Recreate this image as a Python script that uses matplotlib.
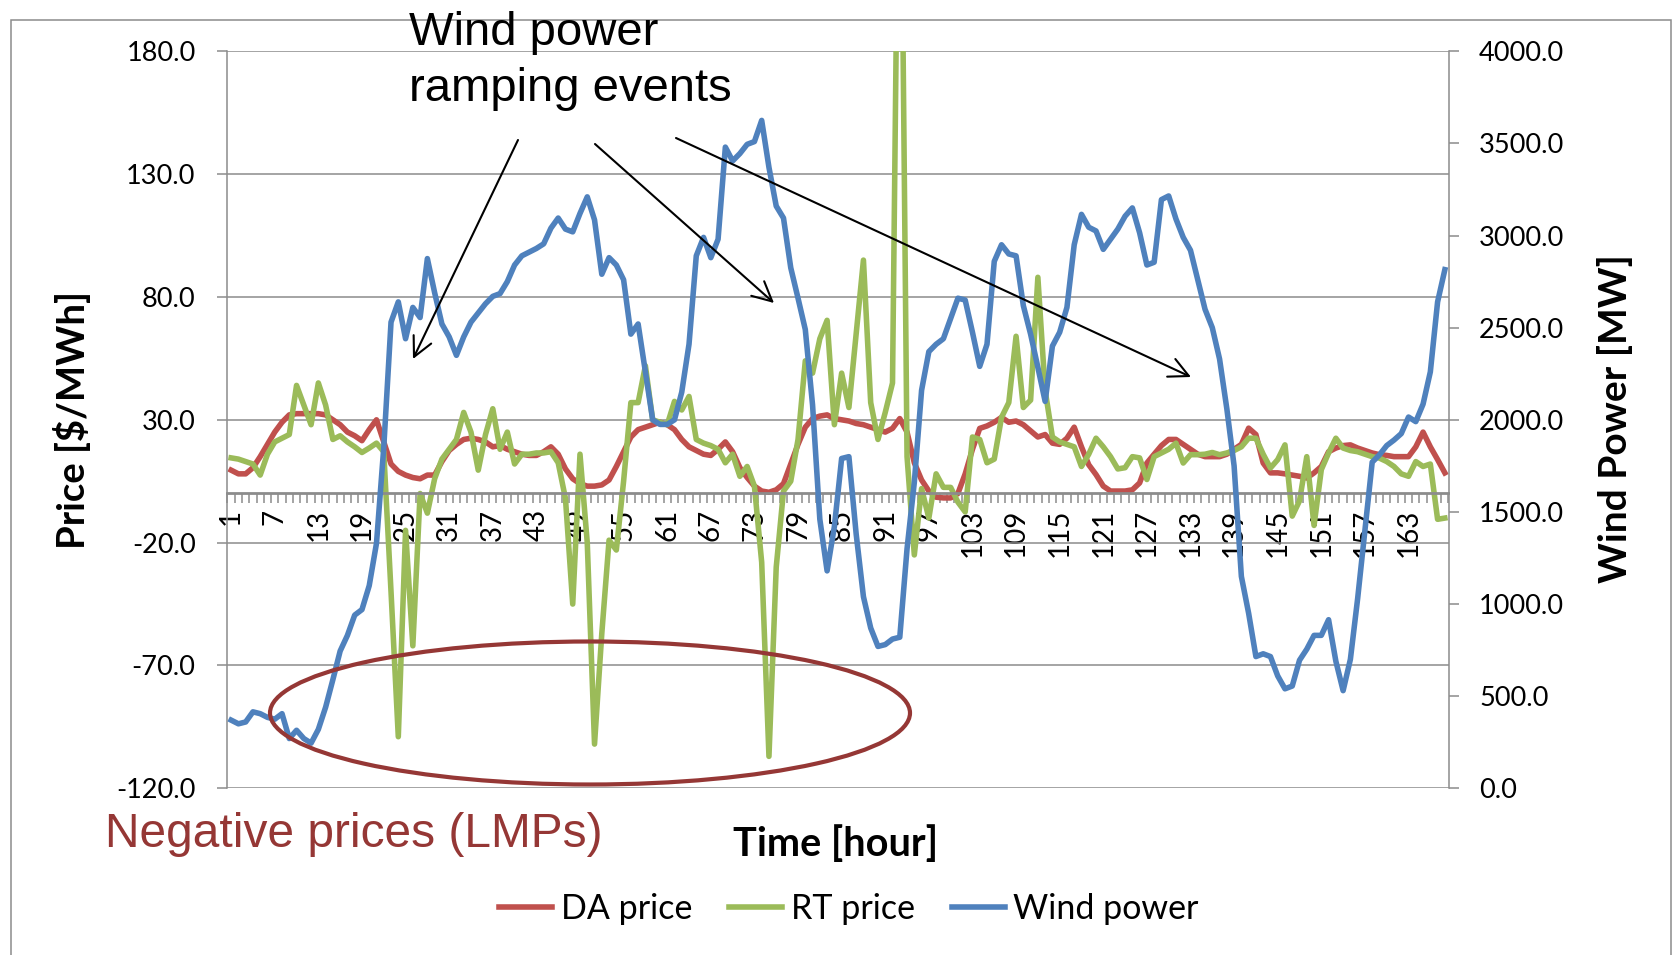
import matplotlib
matplotlib.use("Agg")
import matplotlib.pyplot as plt
from matplotlib.patches import Ellipse, Rectangle, FancyArrowPatch
from matplotlib.ticker import FormatStrFormatter
import numpy as np

hours = list(range(1, 169))

da_price = [
    9.5, 8, 8, 10.5, 15, 20, 25, 29, 32, 32.5,
    32.5, 32.5, 32.5, 32, 30, 28, 25, 23.5, 21.5, 26,
    30, 21, 12, 9, 7.5, 6.5, 6, 7.5, 7.5, 13,
    17.5, 20, 22, 22.5, 22, 21, 19, 19.5, 18, 17,
    16, 15.5, 15.5, 17, 19, 16, 10, 6, 4, 3,
    3, 3.5, 5.5, 11, 17, 23, 26, 27, 28, 29,
    28, 26, 22, 19, 17.5, 16, 15.5, 18, 21, 17,
    10.5, 6.5, 3, 1, 0.5, 1.5, 4, 12, 20, 27,
    30.5, 31.5, 32, 30.5, 30, 29.5, 28.5, 28, 27, 26,
    25, 26.5, 30.5, 25, 12.5, 5.5, 1, -1.5, -1.8, -1.8,
    0, 8, 18, 26.5, 27.5, 29, 31, 29, 29.5, 28,
    25.5, 23, 24, 20.5, 20, 22.5, 27, 19, 11.7, 7.7,
    3, 1, 1, 1, 1.5, 4.3, 12.4, 16, 19.5, 22,
    22, 20, 18, 16, 15, 15, 15, 16, 18, 20,
    26.6, 24, 12.4, 8.4, 8.4, 8, 7.5, 7, 6.3, 8.4,
    11, 17, 18.5, 19.5, 19.8, 18.5, 17.5, 16.5, 15.8, 15.5,
    15, 15, 15, 19, 25, 19, 13.8, 8.4,
]

rt_price = [
    14.5, 14, 13, 12, 7.5, 16, 21, 22.5, 24, 44,
    36, 28, 45, 36, 22, 23.5, 21, 19, 16.7, 18.5,
    20.5, 17, -40, -99, -15, -62, 0, -8, 6, 14,
    18, 22, 33, 25, 9.5, 24, 34.5, 18, 25, 12,
    16, 16, 16.5, 16.5, 17, 12.5, -2, -45, 16, -20,
    -102, -57, -19, -23, 5, 37, 37, 52, 30, 29,
    28, 37.5, 34, 39.5, 22, 20.5, 19.5, 18, 12.5, 16,
    7, 11, 3, -28, -107, -30, 1, 5, 22, 54,
    49, 63, 70.5, 28, 49, 35, 65, 95, 37, 22,
    33, 45, 320, 15, -25, 2, -10, 8, 2.5, 2.5,
    -3.5, -7.5, 23, 22, 12.5, 14, 31, 37, 64, 35,
    38, 88, 42, 23, 21, 20, 19, 11, 16, 22.5,
    19, 15, 10, 10.5, 15, 14.5, 5.7, 15, 16.5, 18,
    20.5, 12.4, 15.8, 15.8, 16, 16.7, 15.8, 16.5, 17.5, 19,
    22.5, 22.5, 16, 10.4, 13.8, 19.8, -9.2, -3, 15, -13,
    9.7, 16.5, 22.5, 18.5, 17.5, 17, 16, 15, 14.4, 13,
    11, 8, 7, 13, 11, 12, -10.5, -10,
]

wind_power = [
    370, 350, 360, 415, 405, 385, 375, 405, 270, 315,
    270, 245, 320, 440, 590, 745, 830, 940, 970, 1100,
    1330, 1850, 2530, 2640, 2440, 2610, 2555, 2875, 2690, 2520,
    2450, 2350, 2450, 2530, 2580, 2630, 2670, 2685, 2750, 2840,
    2890, 2910, 2930, 2955, 3040, 3095, 3035, 3020, 3120, 3210,
    3085, 2790, 2880, 2840, 2760, 2465, 2520, 2260, 2000, 1975,
    1975, 2000, 2150, 2410, 2890, 2990, 2880, 2980, 3480, 3405,
    3445, 3495, 3510, 3625, 3370, 3160, 3095, 2825, 2660, 2490,
    2080, 1460, 1180, 1420, 1790, 1800, 1380, 1040, 870, 770,
    780, 810, 820, 1300, 1660, 2160, 2370, 2410, 2440, 2550,
    2660, 2650, 2475, 2290, 2410, 2860, 2950, 2900, 2890, 2620,
    2465, 2285, 2100, 2400, 2475, 2610, 2950, 3115, 3045, 3025,
    2925, 2980, 3035, 3105, 3150, 3015, 2840, 2855, 3195, 3215,
    3090, 2990, 2920, 2760, 2600, 2500, 2330, 2060, 1750, 1150,
    950, 715, 730, 715, 610, 540, 555, 695, 755, 830,
    830, 915, 690, 530, 700, 1030, 1400, 1770, 1810, 1860,
    1890, 1925, 2015, 1990, 2085, 2260, 2640, 2815,
]

tick_hours = list(range(1, 168, 6))
price_ticks = list(range(-120, 181, 50))
wind_ticks = list(range(0, 4001, 500))

W, H = 1675, 955
GRAY = "#8c8c8c"


def fx(x):
    return x / W


def fy(y):
    return 1 - y / H


plt.rcParams['font.family'] = ['Lato', 'DejaVu Sans']

fig = plt.figure(figsize=(W / 100, H / 100), dpi=100)
ax = fig.add_axes([fx(227.5), fy(788.3), fx(1448.5) - fx(227.5), fy(51.3) - fy(788.3)])
ax2 = ax.twinx()

lw = 4.0
l1, = ax.plot(hours, da_price, color="#C0504D", lw=lw, label="DA price", solid_joinstyle="round")
l2, = ax.plot(hours, rt_price, color="#9BBB59", lw=lw, label="RT price", solid_joinstyle="round")
l3, = ax2.plot(hours, wind_power, color="#4F81BD", lw=lw, label="Wind power", solid_joinstyle="round")

ax.set_xlim(0.5, 168.5)
ax.set_ylim(-120, 180)
ax2.set_ylim(0, 4000)

ax.set_yticks(price_ticks)
ax.yaxis.set_major_formatter(FormatStrFormatter("%.1f"))
ax2.set_yticks(wind_ticks)
ax2.yaxis.set_major_formatter(FormatStrFormatter("%.1f"))
ax.grid(axis="y", color=GRAY, lw=1.1)
ax.set_axisbelow(True)

# category axis crossing at price 0
ax.spines["bottom"].set_position(("data", 0))
ax.spines["bottom"].set_color(GRAY)
ax.spines["bottom"].set_linewidth(2)
ax.spines["top"].set_visible(False)
ax.spines["right"].set_visible(False)
ax.spines["left"].set_color(GRAY)
ax.spines["left"].set_linewidth(1.1)
for s in ["top", "bottom", "left"]:
    ax2.spines[s].set_visible(False)
ax2.spines["right"].set_color(GRAY)
ax2.spines["right"].set_linewidth(1.1)

ax.set_xticks(np.arange(0.5, 169, 1))
ax.set_xticklabels([])
ax.set_xticks(tick_hours, minor=True)
ax.set_xticklabels([str(h) for h in tick_hours], minor=True, rotation=90)
ax.tick_params(axis="x", which="major", length=7, width=1.1, color=GRAY, direction="out")
ax.tick_params(axis="x", which="minor", length=0, pad=11, labelsize=20)
ax.tick_params(axis="y", length=7, width=1.1, color=GRAY, pad=16, labelsize=19.5)
ax2.tick_params(axis="y", length=7, width=1.1, color=GRAY, pad=15, labelsize=19.5)

fig.text(fx(72), fy(420), "Price [$/MWh]", rotation=90, ha="center", va="center",
         fontsize=27.5, fontweight="bold")
fig.text(fx(1615), fy(419), "Wind Power [MW]", rotation=90, ha="center", va="center",
         fontsize=28, fontweight="bold")
fig.text(fx(836), fy(844), "Time [hour]", ha="center", va="center",
         fontsize=28.5, fontweight="bold")

fig.legend(handles=[l1, l2, l3], loc="center", bbox_to_anchor=(fx(849), fy(909)),
           ncol=3, frameon=False, fontsize=24.5, handlelength=1.55,
           handletextpad=0.25, columnspacing=1.1)

# annotations
fig.text(fx(409), fy(45), "Wind power", fontsize=34, family="Liberation Sans", va="baseline")
fig.text(fx(409), fy(101), "ramping events", fontsize=34, family="Liberation Sans", va="baseline")
fig.text(fx(105), fy(847), "Negative prices (LMPs)", fontsize=34.5, family="Liberation Sans",
         color="#953735", va="baseline")

arrows = [((518, 140), (413, 359)), ((595, 144), (774, 303)), ((676, 138), (1191, 377))]
for (x0, y0), (x1, y1) in arrows:
    fig.add_artist(FancyArrowPatch((fx(x0), fy(y0)), (fx(x1), fy(y1)), transform=fig.transFigure,
                                   arrowstyle="->,head_length=0.7,head_width=0.35",
                                   mutation_scale=20, lw=1.5, color="black",
                                   shrinkA=0, shrinkB=0))

fig.add_artist(Ellipse((fx(590), fy(713)), 640 / W, 143 / H, transform=fig.transFigure,
                       fill=False, edgecolor="#953735", lw=3))

fig.add_artist(Rectangle((fx(11), -0.01), fx(1671) - fx(11), fy(20) + 0.01,
                         transform=fig.transFigure, fill=False, edgecolor=GRAY, lw=1.1))

fig.savefig("out.png", dpi=100)
